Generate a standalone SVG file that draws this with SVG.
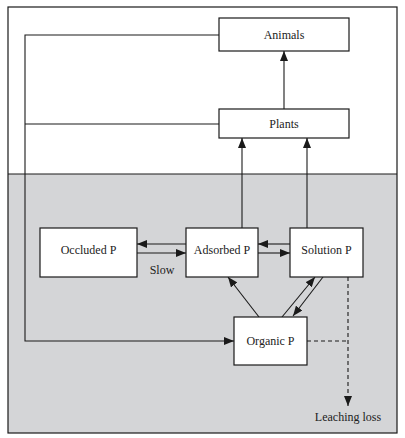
<svg xmlns="http://www.w3.org/2000/svg" width="405" height="438" viewBox="0 0 405 438">
<style>
.box{fill:#fff;stroke:#1a1a1a;stroke-width:1.2}
.ln{fill:none;stroke:#1a1a1a;stroke-width:1.1}
.dash{fill:none;stroke:#1a1a1a;stroke-width:1.1;stroke-dasharray:4 3}
text{font-family:"Liberation Serif","Times New Roman",serif;font-size:12px;fill:#222;text-anchor:middle}
</style>
<defs>
<marker id="ah" viewBox="0 0 10 8" refX="10" refY="4" markerWidth="10" markerHeight="8" markerUnits="userSpaceOnUse" orient="auto">
<path d="M0,0 L10,4 L0,8 Z" fill="#1a1a1a"/>
</marker>
</defs>
<rect x="0" y="0" width="405" height="438" fill="#fff"/>
<rect x="8" y="174" width="389" height="259" fill="#d4d5d7"/>
<rect x="8" y="7" width="389" height="426" fill="none" stroke="#1a1a1a" stroke-width="1.2"/>
<line x1="8" y1="174" x2="397" y2="174" stroke="#1a1a1a" stroke-width="1.2"/>
<g id="connectors">
<polyline class="ln" points="219,35 25,35 25,341 234,341" marker-end="url(#ah)"/>
<line class="ln" x1="25" y1="124" x2="219" y2="124"/>
<line class="ln" x1="284" y1="109" x2="284" y2="51" marker-end="url(#ah)"/>
<line class="ln" x1="242" y1="228" x2="242" y2="138" marker-end="url(#ah)"/>
<line class="ln" x1="307" y1="228" x2="307" y2="138" marker-end="url(#ah)"/>
<line class="ln" x1="186" y1="244" x2="137" y2="244" marker-end="url(#ah)"/>
<line class="ln" x1="137" y1="253" x2="186" y2="253" marker-end="url(#ah)"/>
<line class="ln" x1="290" y1="244" x2="258" y2="244" marker-end="url(#ah)"/>
<line class="ln" x1="258" y1="253" x2="290" y2="253" marker-end="url(#ah)"/>
<line class="ln" x1="259" y1="317" x2="228" y2="277" marker-end="url(#ah)"/>
<line class="ln" x1="282" y1="317" x2="315" y2="277" marker-end="url(#ah)"/>
<line class="ln" x1="323" y1="277" x2="293" y2="316" marker-end="url(#ah)"/>
<line class="dash" x1="307" y1="341" x2="348" y2="341"/>
<line class="dash" x1="348" y1="277" x2="348" y2="406" marker-end="url(#ah)"/>
</g>
<g id="animals"><rect class="box" x="219" y="18" width="130" height="33"/><text x="284" y="39">Animals</text></g>
<g id="plants"><rect class="box" x="219" y="109" width="130" height="29"/><text x="284" y="128">Plants</text></g>
<g id="occluded"><rect class="box" x="40" y="228" width="97" height="49"/><text x="88.5" y="254">Occluded P</text></g>
<g id="adsorbed"><rect class="box" x="186" y="228" width="72" height="49"/><text x="222" y="254">Adsorbed P</text></g>
<g id="solution"><rect class="box" x="290" y="228" width="73" height="49"/><text x="326.5" y="254">Solution P</text></g>
<g id="organic"><rect class="box" x="234" y="317" width="73" height="48"/><text x="270.5" y="345">Organic P</text></g>
<text x="162" y="274">Slow</text>
<text x="348" y="421">Leaching loss</text>
</svg>
